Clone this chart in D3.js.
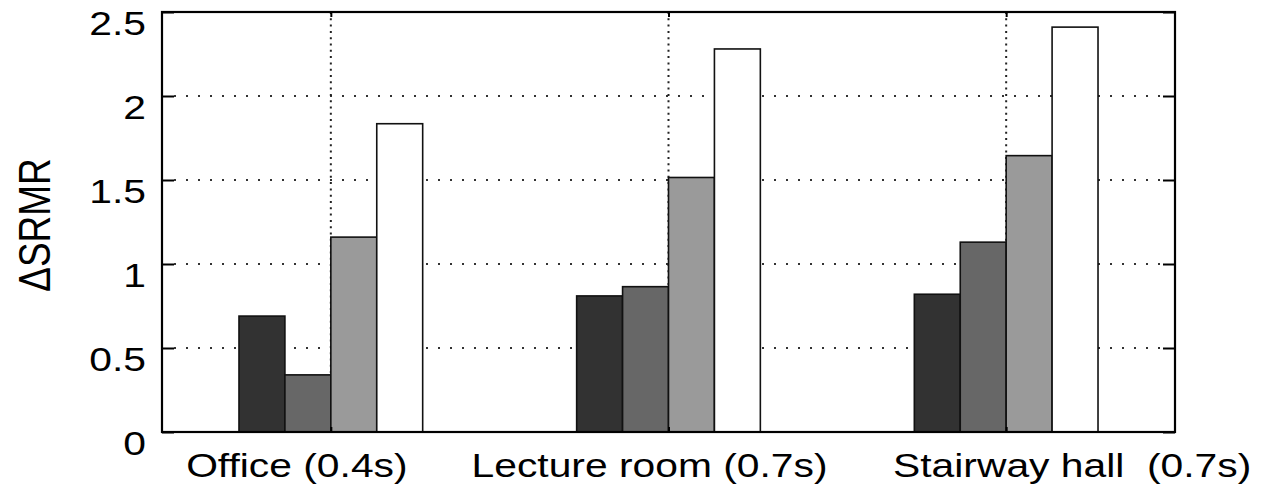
<!DOCTYPE html>
<html>
<head>
<meta charset="utf-8">
<script src="https://cdn.jsdelivr.net/npm/d3@7"></script>
<style>
  body { margin: 0; background: #fff; }
  text { font-family: "Liberation Sans", Arial, sans-serif; fill: #000; white-space: pre; }
</style>
</head>
<body>
<div id="chart"></div>
<script>
// data
var rooms = ["Office (0.4s)", "Lecture room (0.7s)", "Stairway hall  (0.7s)"];
var series1 = [0.69, 0.81, 0.82];
var series2 = [0.34, 0.865, 1.13];
var series3 = [1.16, 1.515, 1.645];
var series4 = [1.835, 2.28, 2.41];
var yTicks = [0, 0.5, 1, 1.5, 2, 2.5];

var series = [series1, series2, series3, series4];
var fills = ["#323232", "#676767", "#9a9a9a", "#ffffff"];

var widthT = 1261, heightT = 490;
var margin = {top: 12, right: 86, bottom: 58, left: 162},
    width = widthT - margin.left - margin.right,
    height = heightT - margin.top - margin.bottom;

var svg = d3.select("#chart")
    .append("svg")
    .attr("width", widthT)
    .attr("height", heightT);

var x = d3.scaleLinear().domain([0.5, rooms.length + 0.5]).range([0, width]),
    y = d3.scaleLinear().domain([0, 2.5]).range([height, 0]);

var barW = 0.136; // in category units
var sx = 1.2;     // the original is a bit stretched sideways

var g = svg.append("g")
    .attr("transform", "translate(" + margin.left + "," + margin.top + ")");

// dotted grid
g.append("g").selectAll("line")
    .data(yTicks.filter(function(d) { return d > 0 && d < 2.5; }))
  .enter().append("line")
    .attr("x1", 12).attr("x2", width - 12)
    .attr("y1", function(d) { return y(d); })
    .attr("y2", function(d) { return y(d); })
    .attr("stroke", "#333")
    .attr("stroke-width", 2)
    .attr("stroke-dasharray", "2,10");

g.append("g").selectAll("line")
    .data(rooms)
  .enter().append("line")
    .attr("x1", function(d, i) { return x(i + 1); })
    .attr("x2", function(d, i) { return x(i + 1); })
    .attr("y1", 0).attr("y2", height)
    .attr("stroke", "#222")
    .attr("stroke-width", 2)
    .attr("stroke-dasharray", "2,4.3");

// bars
series.forEach(function(s, k) {
  g.append("g").selectAll("rect")
      .data(s)
    .enter().append("rect")
      .attr("x", function(d, i) { return x(i + 1 + (k - 2) * barW); })
      .attr("width", x(barW) - x(0))
      .attr("y", function(d) { return y(d); })
      .attr("height", function(d) { return y(0) - y(d); })
      .attr("fill", fills[k])
      .attr("stroke", "#111")
      .attr("stroke-width", 1.6);
});

// inward ticks
var yAxisL = d3.axisLeft(y).tickValues(yTicks).tickSize(-12).tickFormat(""),
    yAxisR = d3.axisRight(y).tickValues(yTicks).tickSize(-12).tickFormat(""),
    xAxisB = d3.axisBottom(x).tickValues([1, 2, 3]).tickSize(-5).tickFormat(""),
    xAxisT = d3.axisTop(x).tickValues([1, 2, 3]).tickSize(-5).tickFormat("");

g.append("g").call(yAxisL);
g.append("g").attr("transform", "translate(" + width + ",0)").call(yAxisR);
g.append("g").attr("transform", "translate(0," + height + ")").call(xAxisB);
g.append("g").call(xAxisT);
g.selectAll(".domain").remove();
g.selectAll(".tick line").attr("stroke", "#000").attr("stroke-width", 2);

// frame
g.append("rect")
    .attr("width", width).attr("height", height)
    .attr("fill", "none")
    .attr("stroke", "#000")
    .attr("stroke-width", 2.2);

// tick labels
g.append("g").selectAll("text")
    .data(yTicks)
  .enter().append("text")
    .attr("transform", function(d) { return "translate(-16," + (y(d) + 23) + ") scale(" + sx + ",1)"; })
    .attr("text-anchor", "end")
    .style("font-size", "34px")
    .text(function(d) { return d3.format("~g")(d); });

var labelShift = [-34, -19, 66];
g.append("g").selectAll("text")
    .data(rooms)
  .enter().append("text")
    .attr("transform", function(d, i) { return "translate(" + (x(i + 1) + labelShift[i]) + "," + (height + 45) + ") scale(" + sx + ",1)"; })
    .attr("text-anchor", "middle")
    .style("font-size", "34px")
    .text(function(d) { return d; });

// y label
svg.append("text")
    .attr("transform", "translate(50," + (margin.top + 213) + ") scale(" + sx + ",1) rotate(-90)")
    .attr("text-anchor", "middle")
    .style("font-size", "37px")
    .text("\u0394SRMR");
</script>
</body>
</html>
